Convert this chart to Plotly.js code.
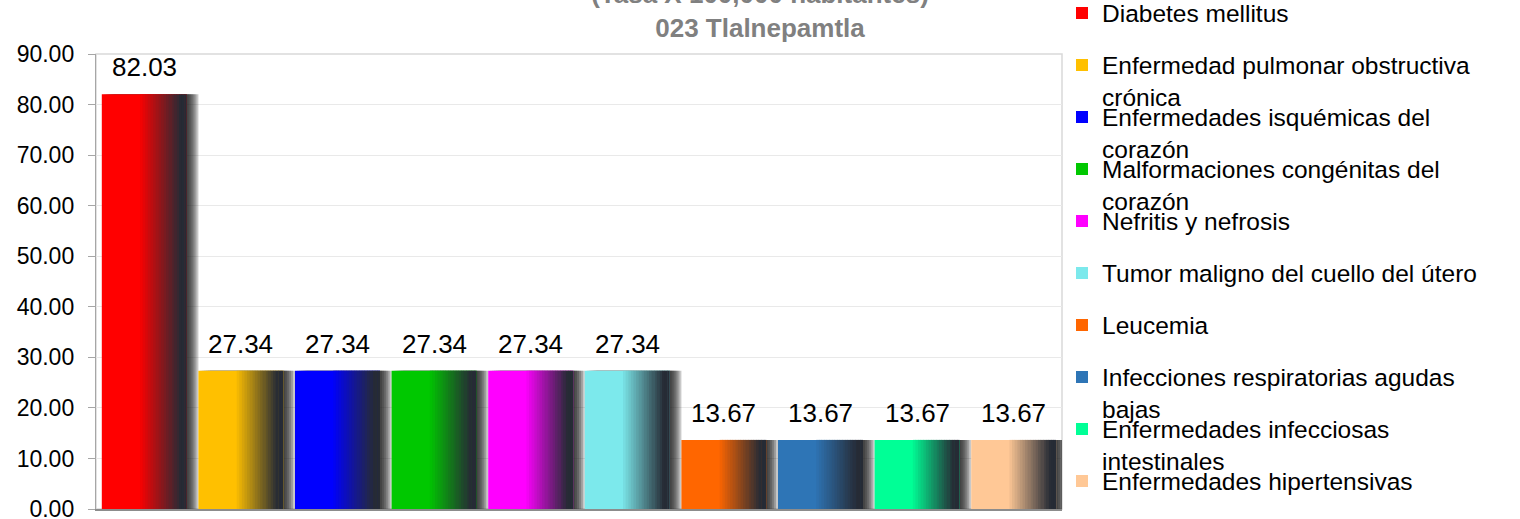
<!DOCTYPE html>
<html>
<head>
<meta charset="utf-8">
<script src="https://cdn.plot.ly/plotly-3.0.1.min.js"></script>
<style>
html,body{margin:0;padding:0;background:#ffffff;}
#chart{width:1520px;height:519px;}
</style>
</head>
<body>
<div id="chart"></div>
<script>
// ---- data ----
const categories = [
  "Diabetes mellitus",
  "Enfermedad pulmonar obstructiva<br>crónica",
  "Enfermedades isquémicas del<br>corazón",
  "Malformaciones congénitas del<br>corazón",
  "Nefritis y nefrosis",
  "Tumor maligno del cuello del útero",
  "Leucemia",
  "Infecciones respiratorias agudas<br>bajas",
  "Enfermedades infecciosas<br>intestinales",
  "Enfermedades hipertensivas"
];
const values = [82.03, 27.34, 27.34, 27.34, 27.34, 27.34, 13.67, 13.67, 13.67, 13.67];
const colors = ["#ff0000", "#ffc000", "#0000ff", "#00c800", "#ff00ff", "#7ce9ec", "#ff6600", "#2e75b6", "#00ff96", "#ffc896"];
const yTickValues = [0, 10, 20, 30, 40, 50, 60, 70, 80, 90];
const yTickLabels = ["0.00", "10.00", "20.00", "30.00", "40.00", "50.00", "60.00", "70.00", "80.00", "90.00"];
const titleLines = ["(Tasa X 100,000 habitantes)", "023 Tlalnepamtla"];

// ---- styling helpers ----
const FONT = "Liberation Sans, Arial, sans-serif";
const W = 1520, H = 519;
const M = {l: 96, r: 458, t: 54, b: 10};
const plotW = W - M.l - M.r, plotH = H - M.t - M.b;
const BAR_W = 0.88;
const DARK = [38, 43, 53];

function hexToRgb(h) {
  const n = parseInt(h.slice(1), 16);
  return [(n >> 16) & 255, (n >> 8) & 255, n & 255];
}
function mix(hex, t) {
  const c = hexToRgb(hex);
  const r = c.map((v, j) => Math.round(v + (DARK[j] - v) * t));
  return "rgb(" + r.join(",") + ")";
}

const idx = values.map((_, i) => i);
const traces = [];

// soft shadow to the right of each bar
[0.02, 0.04, 0.06, 0.08, 0.10, 0.12].forEach(s => {
  traces.push({
    type: "bar", x: idx, y: values,
    offset: -BAR_W / 2 + s, width: BAR_W,
    marker: {color: "rgba(25,25,25,0.24)"},
    showlegend: false, hoverinfo: "skip"
  });
});

// base bars (one per category, each in its own legend)
categories.forEach((name, i) => {
  traces.push({
    type: "bar", x: [i], y: [values[i]], name: name,
    offset: -BAR_W / 2, width: BAR_W,
    marker: {color: colors[i]},
    legend: i === 0 ? "legend" : "legend" + (i + 1),
    hovertemplate: "%{y:.2f}<extra></extra>"
  });
});

// gradient slices towards dark on the right side
const N = 18, g0 = 0.45, g1 = 1.0;
for (let k = 0; k < N; k++) {
  const start = g0 + k * (g1 - g0) / N;
  const w = Math.min((g1 - g0) / N + 0.006, g1 - start);
  const t = Math.min(1, (k + 1) / (N * 0.9));
  traces.push({
    type: "bar", x: idx, y: values,
    offset: -BAR_W / 2 + BAR_W * start, width: BAR_W * w,
    marker: {color: colors.map(c => mix(c, t))},
    showlegend: false, hoverinfo: "skip"
  });
}

const annotations = values.map((v, i) => ({
  x: i, y: v, xref: "x", yref: "y",
  text: v.toFixed(2), showarrow: false,
  yanchor: "bottom", yshift: 10,
  font: {family: FONT, size: 26, color: "#000000"}
}));

const layout = {
  width: W, height: H,
  margin: {l: M.l, r: M.r, t: M.t, b: M.b, autoexpand: false},
  paper_bgcolor: "#ffffff", plot_bgcolor: "#ffffff",
  font: {family: FONT, color: "#000000"},
  barmode: "overlay",
  title: {
    text: titleLines.join("<br>"),
    font: {family: FONT, size: 26, color: "#808080", weight: "bold"},
    xref: "container", x: 0.5, xanchor: "center",
    yref: "container", y: 1 - 2.7 / H, yanchor: "bottom"
  },
  xaxis: {
    range: [-0.5, 9.5], showticklabels: false, showgrid: false, zeroline: false,
    showline: true, linecolor: "#8c8c8c", linewidth: 1.5, ticks: "", fixedrange: true
  },
  yaxis: {
    range: [0, 90], tickvals: yTickValues, ticktext: yTickLabels,
    showgrid: true, gridcolor: "#e9e9e9", gridwidth: 1, zeroline: false,
    showline: true, linecolor: "#a6a6a6", linewidth: 1.2,
    ticks: "outside", ticklen: 7, tickcolor: "#a6a6a6", ticklabelstandoff: 9,
    ticklabeloverflow: "allow",
    tickfont: {family: FONT, size: 23, color: "#000000"}, fixedrange: true
  },
  shapes: [{
    type: "rect", xref: "paper", yref: "paper", x0: 0, x1: 1, y0: 0, y1: 1,
    line: {color: "#d9d9d9", width: 1.5}, layer: "below"
  }],
  annotations: annotations,
  showlegend: true
};

// each legend entry placed on a uniform 52px rhythm, like the reference
categories.forEach((_, i) => {
  const key = i === 0 ? "legend" : "legend" + (i + 1);
  const topPx = 14.5 + 52 * i - 24;
  layout[key] = {
    x: (1062 - M.l) / plotW, xanchor: "left",
    y: (H - M.b - topPx) / plotH, yanchor: "top",
    valign: "top", bgcolor: "rgba(0,0,0,0)", borderwidth: 0,
    font: {family: FONT, size: 24.5, color: "#000000"},
    itemclick: false, itemdoubleclick: false
  };
});

Plotly.newPlot("chart", traces, layout, {displayModeBar: false, staticPlot: true});
</script>
</body>
</html>
